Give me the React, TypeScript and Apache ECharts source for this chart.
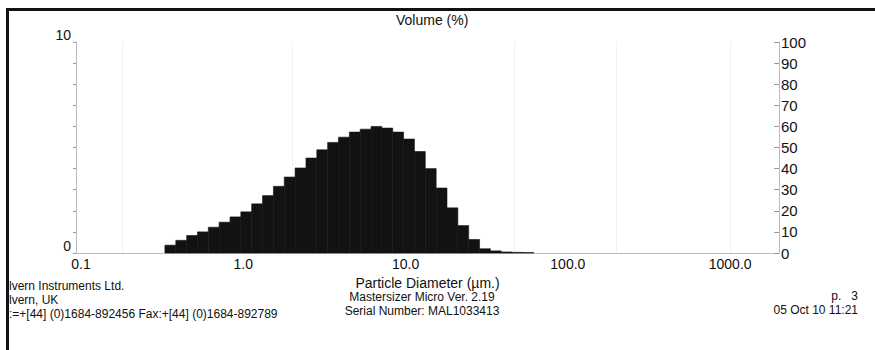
import React, { useEffect, useRef } from "react";
import * as echarts from "echarts";

// Bin edges of the size classes (µm)
const binEdges = [
  0.329, 0.384, 0.448, 0.522, 0.609, 0.71, 0.829, 0.966, 1.127, 1.315, 1.534, 1.789,
  2.086, 2.434, 2.839, 3.311, 3.862, 4.505, 5.254, 6.13, 7.148, 8.337, 9.725, 11.34,
  13.23, 15.44, 18.0, 21.0, 24.49, 28.57, 33.32, 38.87, 45.34, 52.88, 61.68,
];
// Volume (%) per size class
const volumePct = [
  0.37, 0.6, 0.83, 1.0, 1.22, 1.46, 1.71, 1.95, 2.33, 2.72, 3.16, 3.6, 4.03, 4.5, 4.89,
  5.24, 5.49, 5.73, 5.87, 6.0, 5.92, 5.73, 5.4, 4.81, 4.0, 3.08, 2.14, 1.3, 0.64, 0.2,
  0.1, 0.05, 0.03, 0.02,
];
const xTickValues = [0.1, 1, 10, 100, 1000];
const xTickLabels = ["0.1", "1.0", "10.0", "100.0", "1000.0"];
const leftTickLabels = ["0", "10"];
const faintGridX = [0.18, 2, 47, 200, 1000];

const FONT = "'Liberation Sans', Arial, sans-serif";

export default function App() {
  const ref = useRef<HTMLDivElement>(null);
  useEffect(() => {
    if (!ref.current) return;
    const chart = echarts.init(ref.current, undefined, { renderer: "svg" });
    const bars = volumePct.map((v, i) => [binEdges[i], binEdges[i + 1], v]);
    const xLabel = (v: number) => {
      for (let i = 0; i < xTickValues.length; i++) {
        if (Math.abs(Math.log10(v) - Math.log10(xTickValues[i])) < 0.005) return xTickLabels[i];
      }
      return "";
    };
    chart.setOption({
      animation: false,
      backgroundColor: "#ffffff",
      textStyle: { fontFamily: FONT, color: "#111" },
      title: {
        text: "Volume (%)",
        left: 391,
        top: 8,
        textStyle: { fontFamily: FONT, fontSize: 14, fontWeight: "normal", color: "#111" },
      },
      grid: { left: 76, right: 96, top: 42, bottom: 97 },
      xAxis: [
        {
          type: "log",
          logBase: 10,
          min: 0.0932,
          max: 2000,
          name: "Particle Diameter (µm.)",
          nameLocation: "middle",
          nameGap: 9,
          nameTextStyle: { fontFamily: FONT, fontSize: 14, color: "#111" },
          axisLine: { show: true, lineStyle: { color: "#c8c8c8", width: 1 } },
          axisTick: { show: false },
          minorTick: { show: false },
          axisLabel: {
            formatter: xLabel,
            fontFamily: FONT,
            fontSize: 14,
            color: "#111",
            margin: 4,
            showMinLabel: true,
            showMaxLabel: false,
          },
          splitLine: { show: false },
        },
        {
          type: "log",
          logBase: 10,
          min: 0.0932,
          max: 2000,
          position: "top",
          axisLine: { show: true, lineStyle: { color: "#bbb", width: 1, type: "dotted" } },
          axisTick: { show: false },
          axisLabel: { show: false },
          splitLine: { show: false },
        },
      ],
      yAxis: [
        {
          type: "value",
          min: 0,
          max: 10,
          interval: 1,
          position: "left",
          axisLine: { show: true, lineStyle: { color: "#bbb", width: 1 } },
          axisTick: { show: true, length: 3, lineStyle: { color: "#999" } },
          axisLabel: {
            formatter: (v: number) => (v === 0 ? leftTickLabels[0] : v === 10 ? leftTickLabels[1] : ""),
            fontFamily: FONT,
            fontSize: 14,
            color: "#111",
            margin: 5,
            verticalAlign: "bottom",
          },
          splitLine: { show: false },
        },
        {
          type: "value",
          min: 0,
          max: 100,
          interval: 10,
          position: "right",
          axisLine: { show: true, lineStyle: { color: "#bbb", width: 1 } },
          axisTick: { show: true, inside: true, length: 5, lineStyle: { color: "#999" } },
          axisLabel: {
            fontFamily: FONT,
            fontSize: 15,
            color: "#111",
            margin: 2,
          },
          splitLine: { show: false },
        },
      ],
      series: [
        {
          type: "line",
          xAxisIndex: 0,
          yAxisIndex: 0,
          data: [],
          silent: true,
          z: 0,
          markLine: {
            silent: true,
            z: 0,
            symbol: "none",
            label: { show: false },
            lineStyle: { color: "#e6e6e6", type: "dotted", width: 1 },
            data: faintGridX.map((x) => ({ xAxis: x })),
          },
        },
        {
          type: "custom",
          xAxisIndex: 0,
          yAxisIndex: 0,
          z: 10,
          data: bars,
          encode: { x: [0, 1], y: 2 },
          renderItem: (params: any, api: any) => {
            const lo = api.value(0);
            const hi = api.value(1);
            const v = api.value(2);
            const p0 = api.coord([lo, v]);
            const p1 = api.coord([hi, 0]);
            return {
              type: "rect",
              z2: 10,
              shape: { x: p0[0], y: p0[1], width: p1[0] - p0[0], height: p1[1] - p0[1] },
              style: { fill: "#121212", stroke: "#121212", lineWidth: 0.6 },
            };
          },
        },
      ],
      graphic: [
        { type: "rect", shape: { x: 6, y: 8, width: 869, height: 3 }, style: { fill: "#111" } },
        { type: "rect", shape: { x: 6, y: 8, width: 3, height: 342 }, style: { fill: "#111" } },
        {
          type: "text",
          x: 9,
          y: 286,
          style: { text: "lvern Instruments Ltd.", font: `12px ${FONT}`, fill: "#111", verticalAlign: "middle" },
        },
        {
          type: "text",
          x: 9,
          y: 300,
          style: { text: "lvern, UK", font: `12px ${FONT}`, fill: "#111", verticalAlign: "middle" },
        },
        {
          type: "text",
          x: 9,
          y: 314,
          style: {
            text: ":=+[44] (0)1684-892456 Fax:+[44] (0)1684-892789",
            font: `12px ${FONT}`,
            fill: "#111",
            verticalAlign: "middle",
          },
        },
        {
          type: "text",
          x: 422,
          y: 297,
          style: { text: "Mastersizer Micro Ver. 2.19", font: `12px ${FONT}`, fill: "#111", align: "center", verticalAlign: "middle" },
        },
        {
          type: "text",
          x: 422,
          y: 311,
          style: { text: "Serial Number: MAL1033413", font: `12px ${FONT}`, fill: "#111", align: "center", verticalAlign: "middle" },
        },
        {
          type: "text",
          x: 858,
          y: 296,
          style: { text: "p.   3", font: `12px ${FONT}`, fill: "#111", align: "right", verticalAlign: "middle" },
        },
        {
          type: "text",
          x: 858,
          y: 310,
          style: { text: "05 Oct 10 11:21", font: `12px ${FONT}`, fill: "#111", align: "right", verticalAlign: "middle" },
        },
      ],
    });
    return () => chart.dispose();
  }, []);
  return <div ref={ref} style={{ position: "fixed", left: 0, top: 0, width: 875, height: 350 }} />;
}
